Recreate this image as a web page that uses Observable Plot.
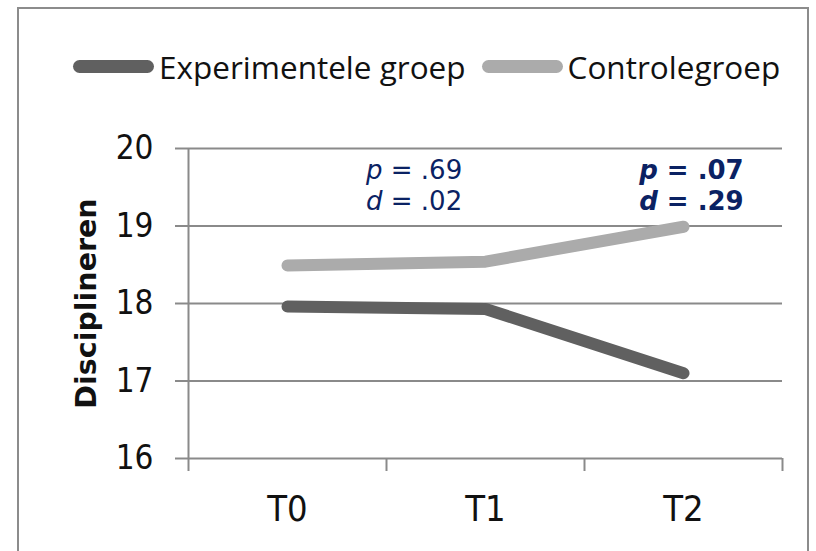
<!DOCTYPE html>
<html><head><meta charset="utf-8">
<script src="https://cdn.jsdelivr.net/npm/d3@7"></script>
<script src="https://cdn.jsdelivr.net/npm/@observablehq/plot@0.6"></script>
<style>
body{margin:0;background:#fff;}
#wrap{position:relative;width:816px;height:551px;overflow:hidden;background:#fff;}
#frame{position:absolute;left:17px;top:7px;width:792px;height:600px;border:2px solid #8c8c8c;box-sizing:border-box;}
#legend{position:absolute;left:73px;top:44px;height:44px;display:flex;align-items:center;font-family:"Open Sans",sans-serif;font-size:31.5px;color:#111;white-space:nowrap;}
.sw{width:81px;height:13px;border-radius:7px;margin-right:5px;}
.item{display:flex;align-items:center;margin-right:16px;}
#chart{position:absolute;left:0;top:0;}
</style></head>
<body>
<div id="wrap"><div id="frame"></div><div id="legend"></div><div id="chart"></div></div>
<script>
const timepoints = ["T0", "T1", "T2"];
const seriesNames = ["Experimentele groep", "Controlegroep"];
const experimentele = [17.96, 17.93, 17.10];
const controle = [18.49, 18.54, 18.99];
const seriesColors = ["#606060", "#ababab"];
const yTicks = [16, 17, 18, 19, 20];
const yTitle = "Disciplineren";

const annLetters = ["p", "d", "p", "d"];
const annValues = ["\u00a0= .69", "\u00a0= .02", "\u00a0= .07", "\u00a0= .29"];
const annX = [0.48, 0.48, 1.87, 1.87];
const annY = [19.716, 19.316, 19.716, 19.316];
const annBold = [false, false, true, true];

const data = [];
[experimentele, controle].forEach((vals, s) => {
  vals.forEach((v, i) => data.push({series: seriesNames[s], t: i, value: v}));
});
const ann = annLetters.map((l, i) => ({letter: l, value: annValues[i], x: annX[i], y: annY[i], bold: annBold[i]}));
const annPlain = ann.filter(d => !d.bold);
const annStrong = ann.filter(d => d.bold);
const boundaries = d3.range(-0.5, timepoints.length, 1);

const navy = "#0b2263";
const gridColor = "#8a8a8a";
const annFont = "DejaVu Sans, sans-serif";

function annMarks(rows, weight) {
  return [
    Plot.text(rows, {x: "x", y: "y", text: "letter", textAnchor: "end", fontStyle: "italic",
      fontWeight: weight, fontSize: 26, fill: navy, fontFamily: annFont}),
    Plot.text(rows, {x: "x", y: "y", text: "value", textAnchor: "start",
      fontWeight: weight, fontSize: 26, fill: navy, fontFamily: annFont})
  ];
}

const chart = Plot.plot({
  width: 816, height: 551,
  marginLeft: 188, marginRight: 34, marginTop: 148, marginBottom: 93,
  style: {background: "transparent", overflow: "visible"},
  x: {type: "linear", domain: [-0.5, timepoints.length - 0.5]},
  y: {domain: [16, 20]},
  color: {domain: seriesNames, range: seriesColors},
  marks: [
    Plot.ruleY(yTicks, {stroke: gridColor, strokeWidth: 2}),
    Plot.ruleX([-0.5], {stroke: gridColor, strokeWidth: 2}),
    Plot.axisY({ticks: yTicks, tickFormat: "d", tickSize: 13, tickPadding: 22, stroke: gridColor, strokeWidth: 2, fill: "#111",
      fontSize: 33, fontFamily: "Liberation Sans Narrow, DejaVu Sans Condensed, sans-serif", label: null}),
    Plot.axisX({ticks: boundaries, tickSize: 13, tickFormat: () => "", stroke: gridColor, strokeWidth: 2, label: null}),
    Plot.axisX({ticks: d3.range(timepoints.length), tickSize: 0, tickPadding: 37, tickFormat: i => timepoints[i],
      fontSize: 36, fill: "#111", fontFamily: "Liberation Sans Narrow, DejaVu Sans Condensed, sans-serif", label: null}),
    Plot.text([yTitle], {frameAnchor: "left", textAnchor: "middle", lineAnchor: "middle", dx: -102, rotate: -90, fontSize: 28.5, fontWeight: "bold",
      fontFamily: "DejaVu Sans, sans-serif", fill: "#111"}),
    Plot.line(data, {x: "t", y: "value", stroke: "series", strokeWidth: 12, strokeLinecap: "round", strokeLinejoin: "round"}),
    ...annMarks(annPlain, "normal"),
    ...annMarks(annStrong, "bold")
  ]
});
document.getElementById("chart").appendChild(chart);

const legend = document.getElementById("legend");
seriesNames.forEach((name, i) => {
  const item = document.createElement("div");
  item.className = "item";
  const sw = document.createElement("div");
  sw.className = "sw";
  sw.style.background = seriesColors[i];
  const label = document.createElement("span");
  label.textContent = name;
  item.appendChild(sw);
  item.appendChild(label);
  legend.appendChild(item);
});
</script>
</body></html>
